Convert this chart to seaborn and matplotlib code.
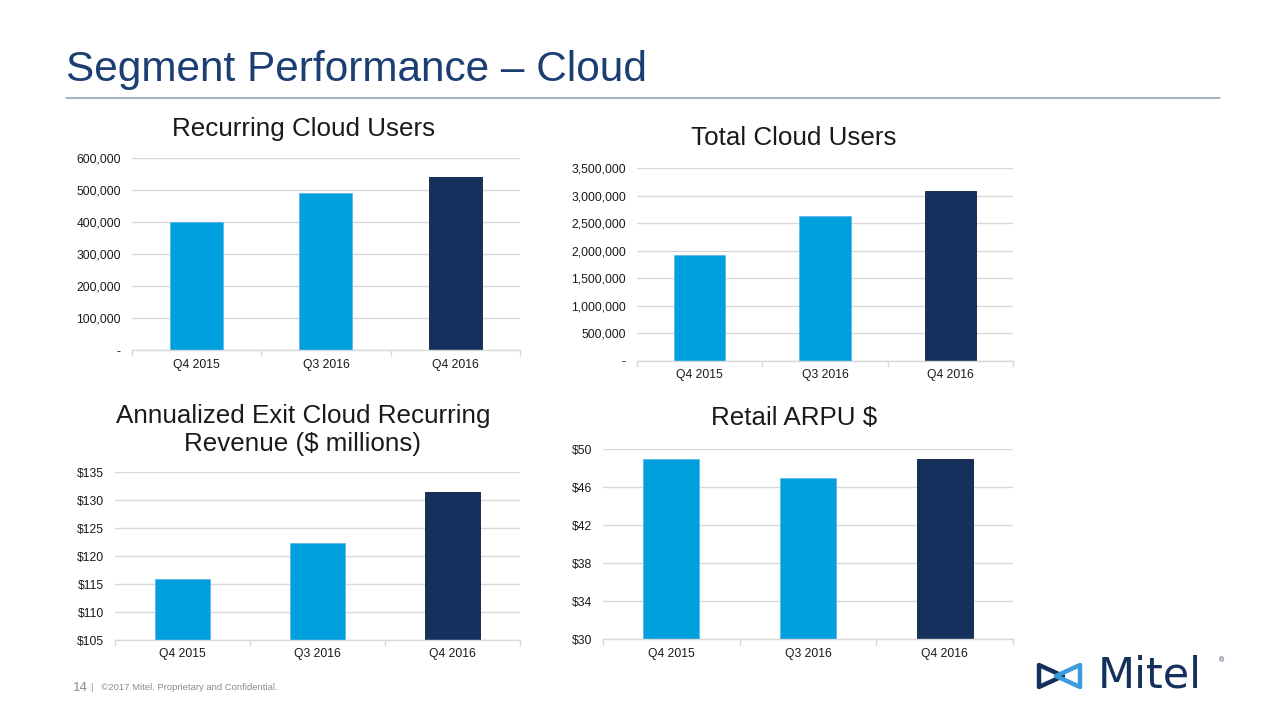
import matplotlib
matplotlib.use("Agg")
import numpy as np
import matplotlib.pyplot as plt
import matplotlib.ticker as mticker
from matplotlib.patches import Polygon
import seaborn as sns

sns.set_theme(style="white")
plt.rcParams['font.family'] = ['Liberation Sans', 'DejaVu Sans']

# --- data ---
quarters = ['Q4 2015', 'Q3 2016', 'Q4 2016']
recurring_users = [401000, 493000, 543000]
total_users = [1925000, 2640000, 3085000]
exit_revenue = [115.9, 122.3, 131.5]
retail_arpu = [49, 47, 49]

light_blue = '#00A0DF'
navy = '#15305C'
bar_colors = [light_blue, light_blue, navy]
grid_col = '#D9D9D9'
title_blue = '#1C3F73'


def users_fmt(v, pos):
    if v == 0:
        return '-'
    return '{:,.0f}'.format(v)


def dollar_fmt(v, pos):
    return '${:.0f}'.format(v)


def draw_panel(ax, values, ylim, step, fmt, title, title_pos):
    sns.barplot(x=quarters, y=values, hue=quarters, palette=bar_colors,
                legend=False, width=0.41, ax=ax, saturation=1, linewidth=0.6)
    for b, c in zip(ax.patches, bar_colors):
        b.set_edgecolor('#5FB8E8' if c == light_blue else '#0C1E3C')
    ax.set_ylim(*ylim)
    ax.set_xlim(-0.5, 2.5)
    ax.yaxis.set_major_locator(mticker.FixedLocator(np.arange(ylim[0], ylim[1] + step / 2, step)))
    ax.yaxis.set_major_formatter(mticker.FuncFormatter(fmt))
    ax.grid(axis='y', color=grid_col, linewidth=1)
    ax.set_axisbelow(True)
    for s in ['top', 'right', 'left']:
        ax.spines[s].set_visible(False)
    ax.spines['bottom'].set_color(grid_col)
    ax.spines['bottom'].set_linewidth(1)
    ax.tick_params(axis='y', length=0, labelsize=8.7, colors='#1A1A1A', pad=8)
    ax.tick_params(axis='x', which='major', length=0, labelsize=8.7, colors='#1A1A1A', pad=6)
    ax.set_xticks([-0.5, 0.5, 1.5, 2.5], minor=True)
    ax.tick_params(axis='x', which='minor', bottom=True, length=4, width=1,
                   color=grid_col, direction='out')
    ax.set_xlabel('')
    ax.set_ylabel('')
    fig.text(title_pos[0], title_pos[1], title, ha='center', va='center',
             fontsize=18.7, color='#1A1A1A', linespacing=1.2)


fig = plt.figure(figsize=(12.8, 7.2), dpi=100)
fig.patch.set_facecolor('white')

ax1 = fig.add_axes([0.1031, 0.5132, 0.3031, 0.2667])
draw_panel(ax1, recurring_users, (0, 600000), 100000, users_fmt,
           'Recurring Cloud Users', (304 / 1280, 1 - 129 / 720))

ax2 = fig.add_axes([0.4977, 0.4990, 0.2938, 0.2672])
draw_panel(ax2, total_users, (0, 3500000), 500000, users_fmt,
           'Total Cloud Users', (794 / 1280, 1 - 138 / 720))

ax3 = fig.add_axes([0.0898, 0.1111, 0.3164, 0.2329])
draw_panel(ax3, exit_revenue, (105, 135), 5, dollar_fmt,
           'Annualized Exit Cloud Recurring\nRevenue ($ millions)',
           (303 / 1280, 1 - 430 / 720))

ax4 = fig.add_axes([0.4711, 0.1121, 0.3203, 0.2639])
draw_panel(ax4, retail_arpu, (30, 50), 4, dollar_fmt,
           'Retail ARPU $', (794 / 1280, 1 - 418 / 720))

# slide header
fig.text(66 / 1280, 1 - 70 / 720, 'Segment Performance \u2013 Cloud',
         ha='left', va='center', fontsize=30.5, color=title_blue)
fig.add_artist(plt.Line2D([66 / 1280, 1220 / 1280], [1 - 98 / 720, 1 - 98 / 720],
                          color='#8FA7BC', linewidth=1.2))

# footer
fig.text(73 / 1280, 1 - 688 / 720, '14', ha='left', va='center',
         fontsize=9.5, color='#8C8C8C')
fig.text(91 / 1280, 1 - 687 / 720, '|   \u00a92017 Mitel. Proprietary and Confidential.',
         ha='left', va='center', fontsize=6.8, color='#8C8C8C')

# logo
fig.text(1098 / 1280, 1 - 675 / 720, 'Mitel', ha='left', va='center',
         fontsize=31, color='#15305C', family=['DejaVu Sans'])
fig.text(1219 / 1280, 1 - 661 / 720, '\u00ae', ha='left', va='center',
         fontsize=5, color='#15305C')


def px(pts):
    return [(x / 1280, 1 - y / 720) for x, y in pts]


fig.add_artist(Polygon(px([(1039, 665), (1039, 687), (1063, 676)]), closed=True,
                       fill=False, edgecolor='#15305C', linewidth=3.2,
                       joinstyle='round', transform=fig.transFigure))
fig.add_artist(Polygon(px([(1080, 665), (1080, 687), (1056, 676)]), closed=True,
                       fill=False, edgecolor='#3C9BDA', linewidth=3.2,
                       joinstyle='round', transform=fig.transFigure))

plt.savefig('out.png', dpi=100)
plt.close()
